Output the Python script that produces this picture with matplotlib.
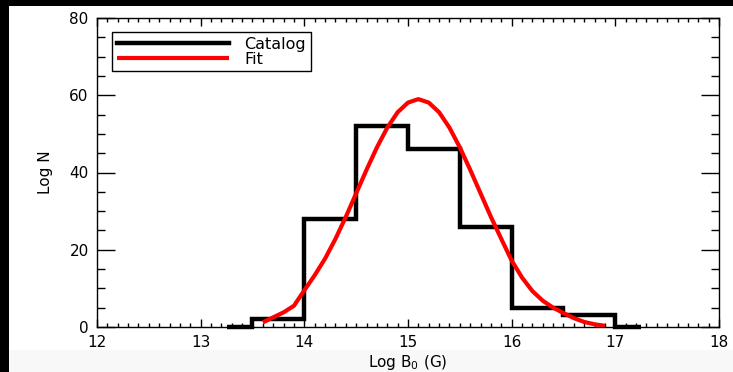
import matplotlib
matplotlib.use("Agg")
import matplotlib.pyplot as plt
from matplotlib.patches import Rectangle
from matplotlib.ticker import MultipleLocator

# Histogram (Catalog)
bin_edges = [13.25, 13.5, 14.0, 14.5, 15.0, 15.5, 16.0, 16.5, 17.0, 17.25]
catalog_counts = [0, 2, 28, 52, 46, 26, 5, 3, 0]

# Fit curve
fit_x = [13.6, 13.7, 13.8, 13.9, 14.0, 14.1, 14.2, 14.3, 14.4, 14.5,
         14.6, 14.7, 14.8, 14.9, 15.0, 15.1, 15.2, 15.3, 15.4, 15.5,
         15.6, 15.7, 15.8, 15.9, 16.0, 16.1, 16.2, 16.3, 16.4, 16.5,
         16.6, 16.7, 16.8, 16.9]
fit_y = [1.2, 2.5, 3.8, 5.5, 9.5, 13.4, 17.7, 22.8, 28.5, 34.6,
         40.7, 46.5, 51.6, 55.6, 58.1, 59.0, 58.1, 55.6, 51.6, 46.5,
         40.7, 34.6, 28.5, 22.8, 17.2, 12.8, 9.3, 6.8, 5.0, 3.6,
         2.3, 1.3, 0.7, 0.3]

x_ticks = [12, 13, 14, 15, 16, 17, 18]
y_ticks = [0, 20, 40, 60, 80]

fig = plt.figure(figsize=(7.33, 3.72), dpi=100)
fig.patch.set_facecolor("white")
# frame decorations
fig.patches.append(Rectangle((0, 0), 1, 22 / 372, transform=fig.transFigure,
                             facecolor="#f8f8f8", edgecolor="none", zorder=-5))
fig.patches.append(Rectangle((0, 1 - 6 / 372), 1, 6 / 372, transform=fig.transFigure,
                             facecolor="black", edgecolor="none", zorder=-4))
fig.patches.append(Rectangle((0, 0), 9 / 733, 1, transform=fig.transFigure,
                             facecolor="black", edgecolor="none", zorder=-4))

ax = fig.add_axes([97 / 733, 1 - 327 / 372, 622 / 733, 309 / 372])
ax.stairs(catalog_counts, bin_edges, color="black", linewidth=3.2,
          baseline=None, label="Catalog", clip_on=False, zorder=3)
ax.plot(fit_x, fit_y, color="red", linewidth=3.0, label="Fit", zorder=4,
        solid_capstyle="butt", solid_joinstyle="round")

ax.set_xlim(12, 18)
ax.set_ylim(0, 80)
ax.set_xticks(x_ticks)
ax.set_yticks(y_ticks)
ax.xaxis.set_minor_locator(MultipleLocator(0.1))
ax.yaxis.set_minor_locator(MultipleLocator(5))
ax.tick_params(which="both", direction="in", top=True, right=True,
               labelsize=11, width=1, pad=6)
ax.tick_params(axis="x", which="major", length=6)
ax.tick_params(axis="x", which="minor", length=3)
ax.tick_params(axis="y", which="major", length=13)
ax.tick_params(axis="y", which="minor", length=6)
for s in ax.spines.values():
    s.set_linewidth(1.0)

ax.set_xlabel("Log B$_0$ (G)", fontsize=11, labelpad=2)
ax.set_ylabel("Log N", fontsize=11, labelpad=12)

leg = ax.legend(loc="upper left", bbox_to_anchor=(0.024, 0.955), borderaxespad=0,
                fontsize=11.5, handlelength=7.0, labelspacing=0.0, fancybox=False,
                framealpha=1, edgecolor="black", borderpad=0.3, handletextpad=1.0)
leg.get_frame().set_linewidth(1.0)
leg._legend_box.align = "left"
leg.get_frame().set_width(leg.get_frame().get_width())

fig.savefig("out.png", dpi=100)
